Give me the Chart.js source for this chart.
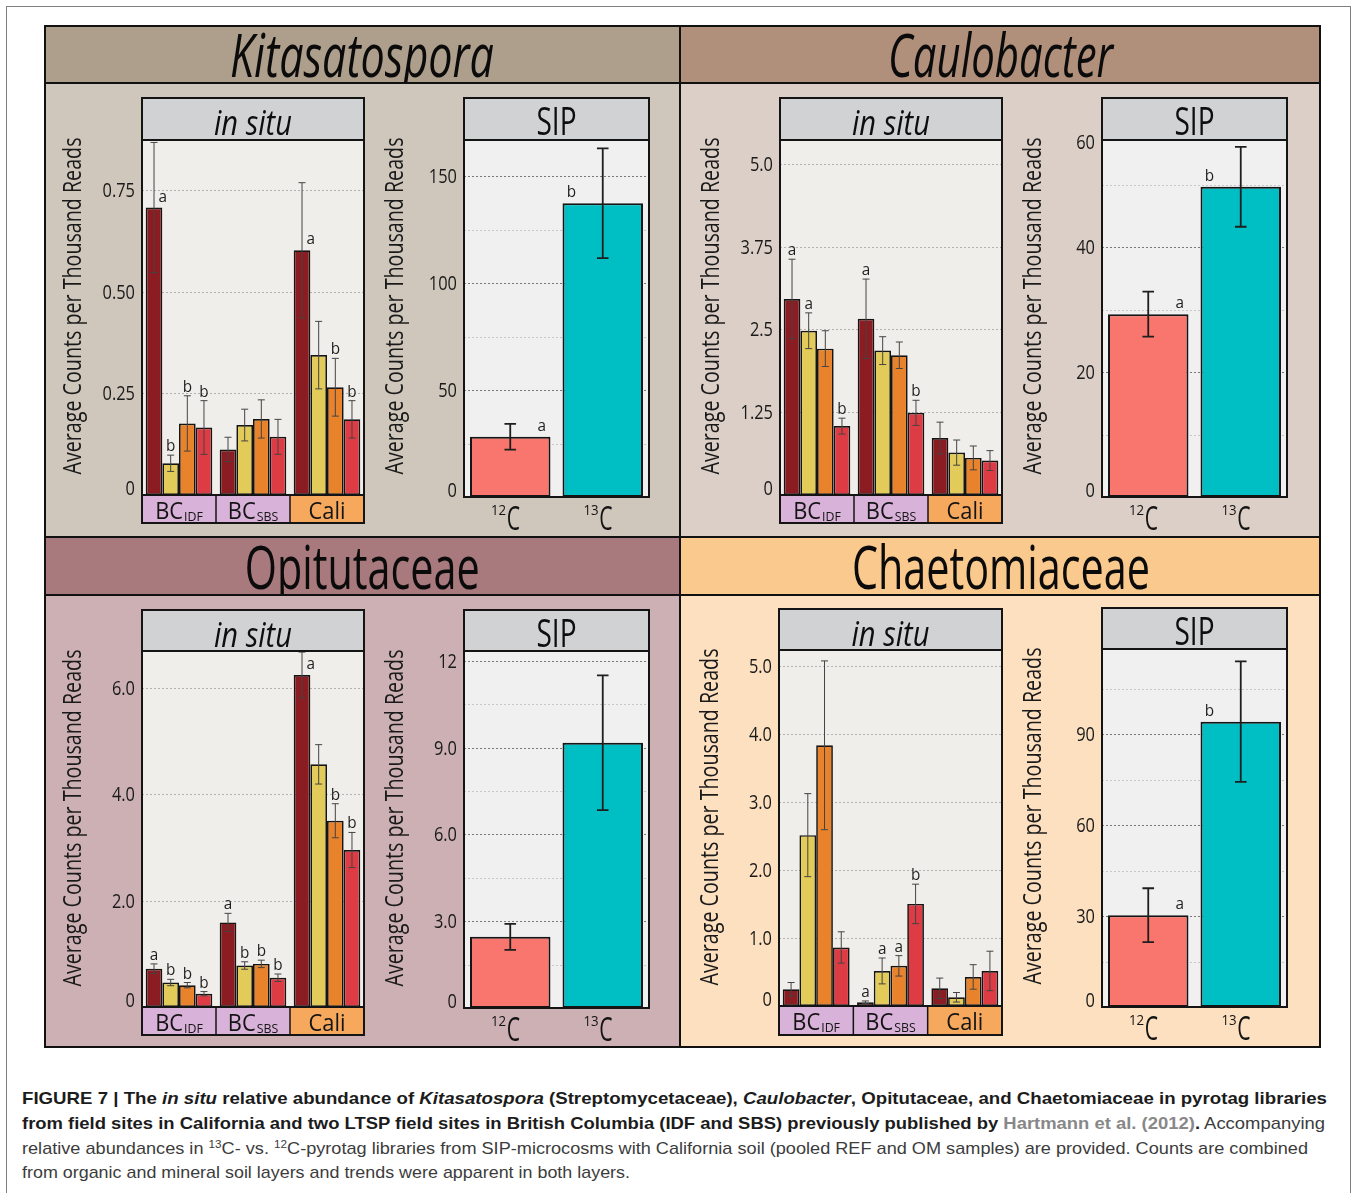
<!DOCTYPE html>
<html lang="en">
<head>
<meta charset="utf-8">
<title>Figure 7 – in situ and SIP abundances</title>
<script src="https://cdn.jsdelivr.net/npm/chart.js@4.4.1/dist/chart.umd.min.js"></script>
<style>
  html, body { margin: 0; padding: 0; background: #ffffff; }
  body { position: relative; width: 1357px; height: 1193px; overflow: hidden; }
  .abs { position: absolute; }
  #sheet { left: 6px; top: 6px; width: 1345px; height: 1200px; border: 1px solid #808080; box-sizing: border-box; }
  .hdr { display: flex; justify-content: center; overflow: hidden; }
  .hdr span { display: inline-block; font-family: "Open Sans", sans-serif; font-size: 61px; font-weight: 500; line-height: 58px; color: #0b0b0b; white-space: nowrap; transform-origin: 50% 50%; }
  .hdr span.it { font-style: italic; }
  .rule { background: #111111; }
  #frame { left: 44px; top: 25px; width: 1277px; height: 1023px; border: 2px solid #111111; box-sizing: border-box; }
  canvas { position: absolute; }
  .cap { position: absolute; left: 22px; font-family: "Liberation Sans", Arial, sans-serif; font-size: 17px; line-height: 20px; white-space: nowrap; color: #3c3c3c; transform-origin: 0 0; }
  .cap b { color: #1c1c1c; }
  .cap .ref { color: #888888; }
  .cap sup { font-size: 11px; line-height: 0; vertical-align: 6px; }
</style>
</head>
<body>
<div id="sheet" class="abs"></div>

<!-- panel backgrounds and headers -->
<div class="abs" style="left:44px;top:83px;width:636px;height:454px;background:#cfc7bc"></div>
<div class="abs" style="left:680px;top:83px;width:641px;height:454px;background:#dccfc7"></div>
<div class="abs" style="left:44px;top:595px;width:636px;height:453px;background:#cdb0b4"></div>
<div class="abs" style="left:680px;top:595px;width:641px;height:453px;background:#fde0c0"></div>

<div class="abs hdr" style="left:44px;top:25px;width:636px;height:58px;background:#ae9f8c"><span class="it fit" data-fit="264">Kitasatospora</span></div>
<div class="abs hdr" style="left:680px;top:25px;width:641px;height:58px;background:#b08f7b"><span class="it fit" data-fit="225">Caulobacter</span></div>
<div class="abs hdr" style="left:44px;top:537px;width:636px;height:58px;background:#a8797d"><span class="fit" data-fit="235">Opitutaceae</span></div>
<div class="abs hdr" style="left:680px;top:537px;width:641px;height:58px;background:#fac98e"><span class="fit" data-fit="298">Chaetomiaceae</span></div>

<div class="abs rule" style="left:44px;top:82px;width:1277px;height:2px"></div>
<div class="abs rule" style="left:44px;top:536px;width:1277px;height:2px"></div>
<div class="abs rule" style="left:44px;top:594px;width:1277px;height:2px"></div>
<div class="abs rule" style="left:679px;top:25px;width:2px;height:1023px"></div>
<div id="frame" class="abs"></div>

<!-- caption -->
<div class="cap fit" data-fit="1305" style="top:1089px"><b>FIGURE 7 | The <i>in situ</i> relative abundance of <i>Kitasatospora</i> (Streptomycetaceae), <i>Caulobacter</i>, Opitutaceae, and Chaetomiaceae in pyrotag libraries</b></div>
<div class="cap fit" data-fit="1303" style="top:1114px"><b>from field sites in California and two LTSP field sites in British Columbia (IDF and SBS) previously published by <span class="ref">Hartmann et al. (2012)</span>.</b> Accompanying</div>
<div class="cap fit" data-fit="1286" style="top:1139px">relative abundances in <sup>13</sup>C- vs. <sup>12</sup>C-pyrotag libraries from SIP-microcosms with California soil (pooled REF and OM samples) are provided. Counts are combined</div>
<div class="cap fit" data-fit="608" style="top:1163px">from organic and mineral soil layers and trends were apparent in both layers.</div>

<script>
// ---------- categories, colours and labels ----------
const siteMain = ['BC', 'BC', 'Cali'];
const siteSub = ['IDF', 'SBS', ''];
const siteFill = ['#d8b2d8', '#d8b2d8', '#f6a95d'];
const isotopeMass = ['12', '13'];
const isotopeElement = ['C', 'C'];
const treatmentFill = ['#8b1c22', '#e2cb58', '#e9832b', '#de3c45'];
const isotopeFill = ['#f8766d', '#00bfc4'];
const yTitle = 'Average Counts per Thousand Reads';

// ---------- Kitasatospora ----------
// rows = treatment series, columns = BC IDF, BC SBS, Cali
const kitaSituMean = [[0.707, 0.112, 0.602], [0.078, 0.172, 0.344], [0.176, 0.187, 0.265], [0.166, 0.143, 0.186]];
const kitaSituErr = [[0.160, 0.030, 0.166], [0.020, 0.039, 0.083], [0.068, 0.047, 0.071], [0.066, 0.043, 0.046]];
const kitaSituLetters = [['a', '', 'a'], ['b', '', ''], ['b', '', 'b'], ['b', '', 'b']];
const kitaSituTicks = [0, 0.25, 0.5, 0.75];
const kitaSituTickLabels = ['0', '0.25', '0.50', '0.75'];
const kitaSituMax = 0.873;
const kitaSipMean = [28.2, 137.4];
const kitaSipErr = [6.0, 25.7];
const kitaSipLetters = ['a', 'b'];
const kitaSipTicks = [0, 50, 100, 150];
const kitaSipTickLabels = ['0', '50', '100', '150'];
const kitaSipMinor = [25, 75, 125];
const kitaSipMax = 167;

// ---------- Caulobacter ----------
const cauloSituMean = [[2.96, 2.66, 0.86], [2.48, 2.18, 0.64], [2.21, 2.11, 0.56], [1.04, 1.24, 0.52]];
const cauloSituErr = [[0.60, 0.60, 0.24], [0.27, 0.21, 0.19], [0.27, 0.20, 0.18], [0.12, 0.19, 0.15]];
const cauloSituLetters = [['a', 'a', ''], ['a', '', ''], ['', '', ''], ['b', 'b', '']];
const cauloSituTicks = [0, 1.25, 2.5, 3.75, 5.0];
const cauloSituTickLabels = ['0', '1.25', '2.5', '3.75', '5.0'];
const cauloSituMax = 5.36;
const cauloSipMean = [29.3, 49.7];
const cauloSipErr = [3.6, 6.4];
const cauloSipLetters = ['a', 'b'];
const cauloSipTicks = [0, 20, 40, 60];
const cauloSipTickLabels = ['0', '20', '40', '60'];
const cauloSipMinor = [10, 30, 50];
const cauloSipMax = 57.2;

// ---------- Opitutaceae ----------
const opitSituMean = [[0.72, 1.59, 6.24], [0.46, 0.78, 4.56], [0.41, 0.81, 3.50], [0.25, 0.55, 2.95]];
const opitSituErr = [[0.09, 0.17, 0.43], [0.06, 0.07, 0.37], [0.05, 0.07, 0.32], [0.04, 0.07, 0.33]];
const opitSituLetters = [['a', 'a', 'a'], ['b', 'b', ''], ['b', 'b', 'b'], ['b', 'b', 'b']];
const opitSituTicks = [0, 2, 4, 6];
const opitSituTickLabels = ['0', '2.0', '4.0', '6.0'];
const opitSituMax = 6.69;
const opitSipMean = [2.46, 9.17];
const opitSipErr = [0.45, 2.33];
const opitSipLetters = ['', ''];
const opitSipTicks = [0, 3, 6, 9, 12];
const opitSipTickLabels = ['0', '3.0', '6.0', '9.0', '12'];
const opitSipMinor = [1.5, 4.5, 7.5, 10.5];
const opitSipMax = 12.34;

// ---------- Chaetomiaceae ----------
const chaeSituMean = [[0.245, 0.054, 0.26], [2.51, 0.515, 0.128], [3.83, 0.59, 0.427], [0.86, 1.50, 0.515]];
const chaeSituErr = [[0.10, 0.02, 0.15], [0.61, 0.19, 0.07], [1.24, 0.15, 0.18], [0.23, 0.29, 0.29]];
const chaeSituLetters = [['', 'a', ''], ['', 'a', ''], ['', 'a', ''], ['', 'b', '']];
const chaeSituTicks = [0, 1, 2, 3, 4, 5];
const chaeSituTickLabels = ['0', '1.0', '2.0', '3.0', '4.0', '5.0'];
const chaeSituMax = 5.23;
const chaeSipMean = [30.3, 94.2];
const chaeSipErr = [8.9, 19.9];
const chaeSipLetters = ['a', 'b'];
const chaeSipTicks = [0, 30, 60, 90];
const chaeSipTickLabels = ['0', '30', '60', '90'];
const chaeSipMinor = [15, 45, 75, 105];
const chaeSipMax = 118.2;

// ---------- drawing helpers ----------
const FONT = '"Open Sans", "DejaVu Sans", sans-serif';
const decor = new Map();

function condensed(ctx, text, x, y, sx, align) {
  ctx.save();
  ctx.translate(x, y);
  ctx.scale(sx, 1);
  ctx.textAlign = align;
  ctx.fillText(text, 0, 0);
  ctx.restore();
}

const panelDecor = {
  id: 'panelDecor',
  beforeDatasetsDraw(chart) {
    const d = decor.get(chart.canvas); if (!d) return;
    const { ctx, chartArea: a } = chart; const y = chart.scales.y; const s = d.spec;
    ctx.save();
    ctx.fillStyle = s.kind === 'situ' ? '#f0eeea' : '#f0f0f0';
    ctx.fillRect(a.left, a.top, a.right - a.left, a.bottom - a.top);
    ctx.lineWidth = 1;
    ctx.setLineDash([2, 2]);
    const gridLine = (v, colour) => {
      if (v <= 0 || v >= s.max) return;
      const py = Math.round(y.getPixelForValue(v)) + 0.5;
      ctx.strokeStyle = colour;
      ctx.beginPath(); ctx.moveTo(a.left, py); ctx.lineTo(a.right, py); ctx.stroke();
    };
    (s.minor || []).forEach(v => gridLine(v, 'rgba(150,150,150,0.45)'));
    s.ticks.forEach(v => gridLine(v, s.kind === 'situ' ? 'rgba(130,130,130,0.55)' : 'rgba(100,100,100,0.85)'));
    ctx.restore();
  },
  afterDatasetsDraw(chart) {
    const d = decor.get(chart.canvas); if (!d) return;
    const { ctx } = chart; const y = chart.scales.y; const s = d.spec;
    const sip = s.kind === 'sip';
    ctx.save();
    chart.data.datasets.forEach((ds, di) => {
      const meta = chart.getDatasetMeta(di);
      meta.data.forEach((bar, j) => {
        const v = ds.data[j], e = ds.errors[j];
        const yt = y.getPixelForValue(v + e), yb = y.getPixelForValue(v - e);
        const cap = sip ? 5.8 : 3.5;
        ctx.strokeStyle = sip ? '#1e1e1e' : '#444444';
        ctx.lineWidth = sip ? 1.8 : 1;
        ctx.beginPath();
        ctx.moveTo(bar.x, yt); ctx.lineTo(bar.x, yb);
        ctx.moveTo(bar.x - cap, yt); ctx.lineTo(bar.x + cap, yt);
        ctx.moveTo(bar.x - cap, yb); ctx.lineTo(bar.x + cap, yb);
        ctx.stroke();
        const letter = ds.letters[j];
        if (!letter) return;
        let lx, ly;
        if (sip) {
          lx = bar.x + (j === 0 ? 1 : -1) * 0.78 * bar.width / 2;
          ly = bar.y - 6;
        } else if ((v + e) / s.max > 0.85) {
          lx = bar.x + 0.53 * bar.width;
          ly = bar.y - 6;
        } else {
          lx = bar.x;
          ly = yt - 4;
        }
        ctx.fillStyle = '#1e1e1e';
        ctx.font = '17px ' + FONT;
        ctx.textBaseline = 'alphabetic';
        condensed(ctx, letter, lx, ly, 0.9, 'center');
      });
    });
    ctx.restore();
  },
  afterDraw(chart) {
    const d = decor.get(chart.canvas); if (!d) return;
    const { ctx, chartArea: a } = chart; const y = chart.scales.y; const s = d.spec;
    const L = a.left, R = a.right, PT = a.top, PB = a.bottom;
    const T = d.box.T - d.oy;
    const bottom = s.kind === 'situ' ? d.box.CB - d.oy : PB;
    ctx.save();
    ctx.textBaseline = 'alphabetic';

    // strip header
    ctx.fillStyle = '#d1d2d4';
    ctx.fillRect(L, T, R - L, PT - T);
    ctx.fillStyle = '#0e0e0e';
    if (s.kind === 'situ') {
      ctx.font = 'italic 500 34px ' + FONT;
      condensed(ctx, 'in situ', (L + R) / 2, T + 37, 78 / ctx.measureText('in situ').width, 'center');
    } else {
      ctx.font = '500 39px ' + FONT;
      condensed(ctx, 'SIP', (L + R) / 2, T + 37, 40 / ctx.measureText('SIP').width, 'center');
    }

    // site bar beneath the in situ plot
    if (s.kind === 'situ') {
      const n = siteMain.length, cw = (R - L) / n;
      for (let k = 0; k < n; k++) {
        ctx.fillStyle = siteFill[k];
        ctx.fillRect(L + k * cw, PB, cw, bottom - PB);
      }
      ctx.fillStyle = '#141414';
      for (let k = 0; k < n; k++) {
        const cx = chart.scales.x.getPixelForValue(k);
        ctx.font = '23px ' + FONT;
        const wMain = ctx.measureText(siteMain[k]).width * 0.95;
        ctx.font = '13px ' + FONT;
        const wSub = siteSub[k] ? ctx.measureText(siteSub[k]).width * 0.95 : 0;
        const total = wMain + (siteSub[k] ? 1 + wSub : 0);
        const x0 = cx - total / 2;
        ctx.font = '23px ' + FONT;
        condensed(ctx, siteMain[k], x0, PB + 23.5, 0.95, 'left');
        if (siteSub[k]) {
          ctx.font = '13px ' + FONT;
          condensed(ctx, siteSub[k], x0 + wMain + 1, PB + 26, 0.95, 'left');
        }
      }
      ctx.strokeStyle = '#141414';
      ctx.lineWidth = 1.5;
      for (let k = 1; k < n; k++) {
        const bx = L + k * cw;
        ctx.beginPath(); ctx.moveTo(bx, PB); ctx.lineTo(bx, bottom); ctx.stroke();
      }
    } else {
      // isotope labels under the SIP bars
      const meta = chart.getDatasetMeta(0);
      ctx.fillStyle = '#141414';
      meta.data.forEach((bar, k) => {
        ctx.font = '14px ' + FONT;
        const wm = ctx.measureText(isotopeMass[k]).width * 0.95;
        ctx.font = '32px ' + FONT;
        const we = ctx.measureText(isotopeElement[k]).width * 0.66;
        const x0 = bar.x - 5 - (wm + we) / 2;
        ctx.font = '14px ' + FONT;
        condensed(ctx, isotopeMass[k], x0, PB + 18, 0.95, 'left');
        ctx.font = '32px ' + FONT;
        condensed(ctx, isotopeElement[k], x0 + wm + 0.5, PB + 33, 0.66, 'left');
      });
    }

    // frame lines
    ctx.strokeStyle = '#141414';
    ctx.lineWidth = 2;
    ctx.strokeRect(L, T, R - L, bottom - T);
    ctx.beginPath();
    ctx.moveTo(L, PT); ctx.lineTo(R, PT);
    ctx.moveTo(L, PB); ctx.lineTo(R, PB);
    ctx.stroke();

    // y tick labels (edge labels kept inside the plot height)
    ctx.fillStyle = '#1a1a1a';
    ctx.font = '20px ' + FONT;
    s.ticks.forEach((v, k) => {
      let py = y.getPixelForValue(v);
      py = Math.max(PT + 2, Math.min(PB - 7, py));
      condensed(ctx, s.tickLabels[k], L - 7, py + 7, 0.82, 'right');
    });

    // y axis title
    ctx.font = '500 25px ' + FONT;
    const tw = ctx.measureText(yTitle).width;
    ctx.save();
    ctx.translate(L - 68, T + 208);
    ctx.rotate(-Math.PI / 2);
    ctx.scale(337 / tw, 1);
    ctx.textAlign = 'center';
    ctx.textBaseline = 'middle';
    ctx.fillText(yTitle, 0, 0);
    ctx.restore();

    ctx.restore();
  }
};
Chart.register(panelDecor);

function buildChart(box, spec) {
  const cl = box.L - 100, ct = box.T - 3;
  const bottom = spec.kind === 'situ' ? box.CB : box.PB + 40;
  const cw = box.R + 3 - cl, ch = bottom + 3 - ct;
  const cv = document.createElement('canvas');
  cv.width = cw; cv.height = ch;
  cv.style.left = cl + 'px'; cv.style.top = ct + 'px';
  cv.style.width = cw + 'px'; cv.style.height = ch + 'px';
  document.body.appendChild(cv);
  decor.set(cv, { box, spec, ox: cl, oy: ct });

  let labels, datasets;
  if (spec.kind === 'situ') {
    labels = siteMain.map((m, i) => m + ' ' + siteSub[i]);
    datasets = spec.mean.map((row, i) => ({
      label: 'treatment ' + (i + 1),
      data: row,
      errors: spec.err[i],
      letters: spec.letters[i],
      backgroundColor: treatmentFill[i],
      borderColor: '#151515',
      borderWidth: 1.7,
      borderSkipped: false,
      categoryPercentage: 0.9,
      barPercentage: 1.0
    }));
  } else {
    labels = isotopeMass.map((m, i) => m + isotopeElement[i]);
    datasets = [{
      label: 'SIP',
      data: spec.mean,
      errors: spec.err,
      letters: spec.letters,
      backgroundColor: isotopeFill,
      borderColor: '#151515',
      borderWidth: 2,
      borderSkipped: false,
      categoryPercentage: 1.0,
      barPercentage: 0.87
    }];
  }

  new Chart(cv, {
    type: 'bar',
    data: { labels, datasets },
    options: {
      responsive: false,
      maintainAspectRatio: false,
      animation: false,
      devicePixelRatio: 1,
      events: [],
      layout: { padding: { left: box.L - cl, top: box.PT - ct, right: 3, bottom: ch - (box.PB - ct) } },
      plugins: { legend: { display: false }, tooltip: { enabled: false }, title: { display: false } },
      scales: {
        x: { display: false, offset: true },
        y: { display: false, min: 0, max: spec.max }
      }
    }
  });
}

// ---------- panel layout ----------
buildChart({ L: 142, R: 364, T: 98, PT: 140, PB: 495, CB: 523 },
  { kind: 'situ', mean: kitaSituMean, err: kitaSituErr, letters: kitaSituLetters, ticks: kitaSituTicks, tickLabels: kitaSituTickLabels, max: kitaSituMax });
buildChart({ L: 464, R: 649, T: 98, PT: 140, PB: 497 },
  { kind: 'sip', mean: kitaSipMean, err: kitaSipErr, letters: kitaSipLetters, ticks: kitaSipTicks, tickLabels: kitaSipTickLabels, minor: kitaSipMinor, max: kitaSipMax });
buildChart({ L: 780, R: 1002, T: 98, PT: 140, PB: 495, CB: 523 },
  { kind: 'situ', mean: cauloSituMean, err: cauloSituErr, letters: cauloSituLetters, ticks: cauloSituTicks, tickLabels: cauloSituTickLabels, max: cauloSituMax });
buildChart({ L: 1102, R: 1287, T: 98, PT: 140, PB: 497 },
  { kind: 'sip', mean: cauloSipMean, err: cauloSipErr, letters: cauloSipLetters, ticks: cauloSipTicks, tickLabels: cauloSipTickLabels, minor: cauloSipMinor, max: cauloSipMax });
buildChart({ L: 142, R: 364, T: 610, PT: 651, PB: 1007, CB: 1035 },
  { kind: 'situ', mean: opitSituMean, err: opitSituErr, letters: opitSituLetters, ticks: opitSituTicks, tickLabels: opitSituTickLabels, max: opitSituMax });
buildChart({ L: 464, R: 649, T: 610, PT: 651, PB: 1008 },
  { kind: 'sip', mean: opitSipMean, err: opitSipErr, letters: opitSipLetters, ticks: opitSipTicks, tickLabels: opitSipTickLabels, minor: opitSipMinor, max: opitSipMax });
buildChart({ L: 779, R: 1002, T: 609, PT: 650, PB: 1006, CB: 1035 },
  { kind: 'situ', mean: chaeSituMean, err: chaeSituErr, letters: chaeSituLetters, ticks: chaeSituTicks, tickLabels: chaeSituTickLabels, max: chaeSituMax });
buildChart({ L: 1102, R: 1287, T: 608, PT: 649, PB: 1007 },
  { kind: 'sip', mean: chaeSipMean, err: chaeSipErr, letters: chaeSipLetters, ticks: chaeSipTicks, tickLabels: chaeSipTickLabels, minor: chaeSipMinor, max: chaeSipMax });

// squeeze headers and caption lines to their set widths
document.querySelectorAll('.fit').forEach(el => {
  const w = el.getBoundingClientRect().width;
  if (w > 0) el.style.transform = 'scaleX(' + (Number(el.dataset.fit) / w) + ')';
});
</script>
</body>
</html>
